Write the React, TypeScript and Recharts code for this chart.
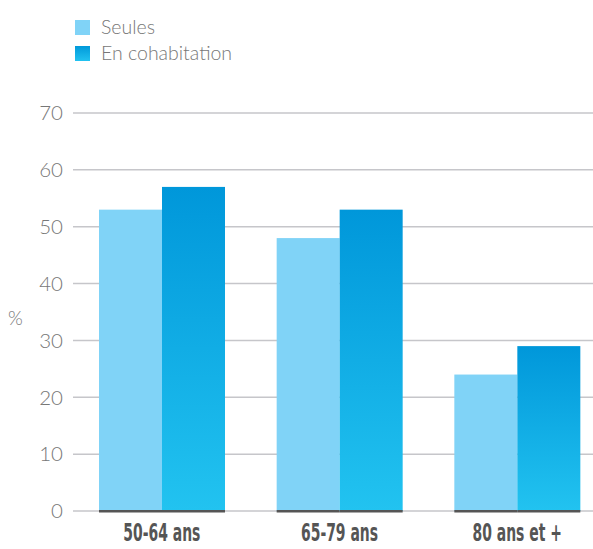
import React from 'react';
import { BarChart, Bar, XAxis, YAxis, CartesianGrid } from 'recharts';

const CATEGORIES = ['50-64 ans', '65-79 ans', '80 ans et +'];
const SEULES = [53, 48, 24];
const COHABITATION = [57, 53, 29];
const Y_TICKS = [0, 10, 20, 30, 40, 50, 60, 70];

const data = CATEGORIES.map((name, i) => ({
  name,
  seules: SEULES[i],
  cohabitation: COHABITATION[i],
}));

const LIGHT = '#80d3f7';
const FONT = 'Lato, "Open Sans", sans-serif';

// bar with the dark foot segment drawn along the baseline
const BarWithFoot = (props: any) => {
  const { x, y, width, height, fill } = props;
  if (!height) return null;
  return (
    <g>
      <rect x={x} y={y} width={width} height={height} fill={fill} />
      <rect x={x} y={y + height - 1} width={width} height={2.5} fill="#555" />
    </g>
  );
};

// narrow, bold category labels
const CatTick = (props: any) => {
  const { x, y, payload } = props;
  return (
    <g transform={`translate(${x},${y}) scale(0.62,1)`}>
      <text
        x={0}
        y={0}
        dy={30}
        textAnchor="middle"
        fill="#555"
        fontSize={25}
        fontWeight={700}
        fontFamily='"DejaVu Sans Condensed", "DejaVu Sans", sans-serif'
        style={{ fontStretch: 'condensed' }}
      >
        {payload.value}
      </text>
    </g>
  );
};

const LegendBox = () => (
  <div style={{ position: 'absolute', top: 14, left: 75, fontFamily: FONT, fontWeight: 300, fontSize: 19.5, color: '#777', lineHeight: '26px' }}>
    <div style={{ display: 'flex', alignItems: 'center' }}>
      <span style={{ width: 15, height: 15, background: LIGHT, marginRight: 11 }} />
      Seules
    </div>
    <div style={{ display: 'flex', alignItems: 'center' }}>
      <span style={{ width: 15, height: 15, background: 'linear-gradient(#0099da, #22c2f0)', marginRight: 11 }} />
      En cohabitation
    </div>
  </div>
);

export default function App() {
  return (
    <div style={{ position: 'absolute', left: 0, top: 0, width: 593, height: 549, overflow: 'hidden', background: '#fff' }}>
      <BarChart
        width={606}
        height={549}
        data={data}
        margin={{ top: 113, right: 0, left: 0, bottom: 8 }}
        barGap={0}
        barCategoryGap={26}
      >
        <defs>
          <linearGradient id="darkGrad" x1="0" y1="0" x2="0" y2="1">
            <stop offset="0%" stopColor="#0097da" />
            <stop offset="100%" stopColor="#22c3f0" />
          </linearGradient>
        </defs>
        <CartesianGrid vertical={false} stroke="#c6c6ca" strokeWidth={1.5} />
        <XAxis
          dataKey="name"
          height={30}
          axisLine={false}
          tickLine={false}
          tickSize={0}
          tickMargin={0}
          tick={<CatTick />}
        />
        <YAxis
          width={73}
          domain={[0, 70]}
          ticks={Y_TICKS}
          axisLine={false}
          tickLine={false}
          tickSize={0}
          tickMargin={10}
          tick={{ fill: '#777', fontSize: 20.5, fontWeight: 300, fontFamily: FONT }}
          label={{ value: '%', position: 'insideLeft', offset: 8, dy: 6, fill: '#777', fontSize: 19, fontWeight: 300, fontFamily: FONT }}
        />
        <Bar dataKey="seules" name="Seules" fill={LIGHT} shape={<BarWithFoot />} isAnimationActive={false} />
        <Bar dataKey="cohabitation" name="En cohabitation" fill="url(#darkGrad)" shape={<BarWithFoot />} isAnimationActive={false} />
      </BarChart>
      <LegendBox />
    </div>
  );
}
